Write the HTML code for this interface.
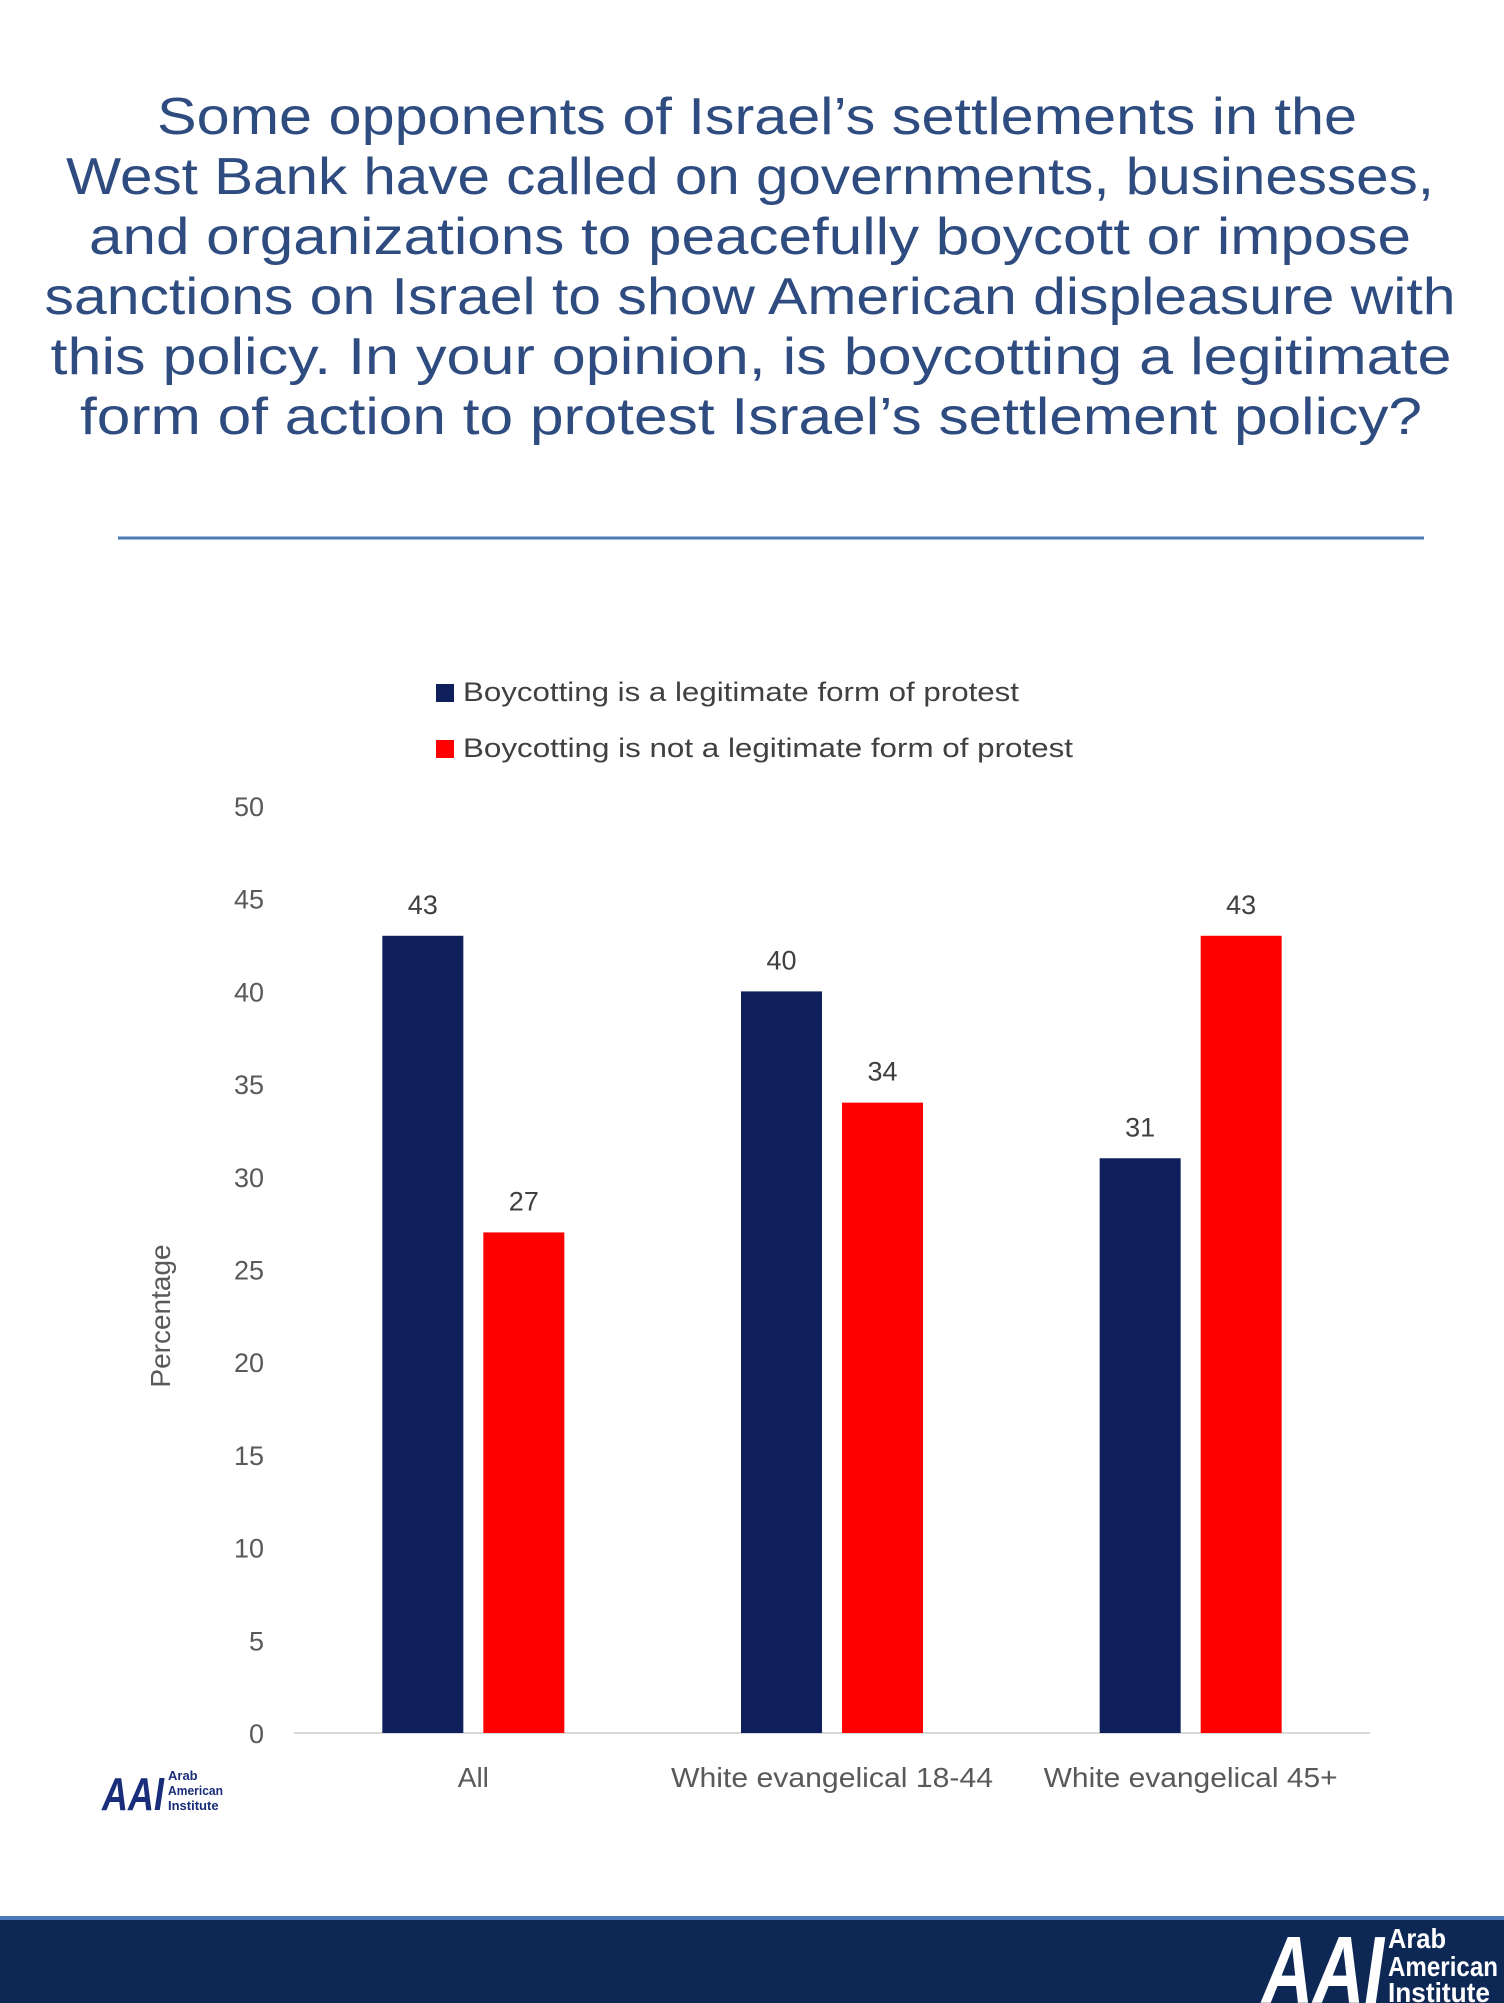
<!DOCTYPE html>
<html><head><meta charset="utf-8"><style>
html,body{margin:0;padding:0;background:#fff;}
svg{display:block;font-family:"Liberation Sans",sans-serif;}
</style></head><body>
<svg id="chart" width="1504" height="2003" viewBox="0 0 1504 2003" xmlns="http://www.w3.org/2000/svg">
<g fill="#2f4c80" font-size="52">
<text x="757" y="134" text-anchor="middle" textLength="1200" lengthAdjust="spacingAndGlyphs">Some opponents of Israel’s settlements in the</text>
<text x="750" y="194" text-anchor="middle" textLength="1368" lengthAdjust="spacingAndGlyphs">West Bank have called on governments, businesses,</text>
<text x="750" y="254" text-anchor="middle" textLength="1322" lengthAdjust="spacingAndGlyphs">and organizations to peacefully boycott or impose</text>
<text x="750" y="314" text-anchor="middle" textLength="1411" lengthAdjust="spacingAndGlyphs">sanctions on Israel to show American displeasure with</text>
<text x="751" y="374" text-anchor="middle" textLength="1401" lengthAdjust="spacingAndGlyphs">this policy. In your opinion, is boycotting a legitimate</text>
<text x="751" y="434" text-anchor="middle" textLength="1342" lengthAdjust="spacingAndGlyphs">form of action to protest Israel’s settlement policy?</text>
</g>
<line x1="118" y1="538" x2="1424" y2="538" stroke="#4a7ab8" stroke-width="3"/>
<g font-size="27" fill="#404040">
<g>
<rect x="436" y="684" width="18" height="18" fill="#0e1f5b"/>
<text x="463" y="701" textLength="556" lengthAdjust="spacingAndGlyphs">Boycotting is a legitimate form of protest</text></g>
<g>
<rect x="436" y="740" width="18" height="18" fill="#ff0000"/>
<text x="463" y="757" textLength="610" lengthAdjust="spacingAndGlyphs">Boycotting is not a legitimate form of protest</text></g>
</g>
<g id="yaxis"></g>
<text transform="translate(170,1316) rotate(-90)" text-anchor="middle" font-size="28" fill="#595959">Percentage</text>
<line x1="294" y1="1733" x2="1370" y2="1733" stroke="#d9d9d9" stroke-width="2"/>
<g id="bars"></g>
<g id="xaxis"></g>
<g>
<text x="102" y="1810" font-size="46" font-weight="bold" font-style="italic" fill="#1a2d7a" textLength="62" lengthAdjust="spacingAndGlyphs">AAI</text>
<text x="168" y="1780" font-size="13" font-weight="bold" fill="#1a2d7a">Arab</text>
<text x="168" y="1795" font-size="13" font-weight="bold" fill="#1a2d7a" textLength="55" lengthAdjust="spacingAndGlyphs">American</text>
<text x="168" y="1810" font-size="13" font-weight="bold" fill="#1a2d7a">Institute</text>
</g>
<g>
<rect x="0" y="1916" width="1504" height="87" fill="#0e2856"/>
<rect x="0" y="1916" width="1504" height="4" fill="#4a78b8"/>
<text x="1262" y="2003" font-size="96" font-weight="bold" font-style="italic" fill="#fff" textLength="122" lengthAdjust="spacingAndGlyphs">AAI</text>
<text x="1388" y="1948" font-size="28" font-weight="bold" fill="#fff" textLength="58" lengthAdjust="spacingAndGlyphs">Arab</text>
<text x="1388" y="1976" font-size="28" font-weight="bold" fill="#fff" textLength="110" lengthAdjust="spacingAndGlyphs">American</text>
<text x="1388" y="2002" font-size="28" font-weight="bold" fill="#fff" textLength="102" lengthAdjust="spacingAndGlyphs">Institute</text>
</g>
</svg>
<script>
const categories = ["All", "White evangelical 18-44", "White evangelical 45+"];
const legitimateValues = [43, 40, 31];
const notLegitimateValues = [27, 34, 43];
const yTicks = [0, 5, 10, 15, 20, 25, 30, 35, 40, 45, 50];
const NS = "http://www.w3.org/2000/svg";
const plotLeft = 294, plotRight = 1370, plotBottom = 1733, plotTop = 806, yMax = 50;
function yScale(v){ return plotBottom - v * (plotBottom - plotTop) / yMax; }
function groupCenter(i){ const w = (plotRight - plotLeft) / categories.length; return plotLeft + w * (i + 0.5); }
function mk(tag, attrs){ const e = document.createElementNS(NS, tag); for (const k in attrs) e.setAttribute(k, attrs[k]); return e; }
const yaxis = document.getElementById('yaxis');
yTicks.forEach(t => {
  const el = mk('text', {x: 264, y: yScale(t) + 10, 'text-anchor': 'end', 'font-size': 27, fill: '#595959'});
  el.textContent = t;
  
  
  yaxis.appendChild(el);
});
const bars = document.getElementById('bars');
const series = [[legitimateValues, '#0e1f5b', -91, 'legitimate'], [notLegitimateValues, '#ff0000', 10, 'not-legitimate']];
categories.forEach((c, i) => {
  const cx = groupCenter(i);
  series.forEach(([vals, color, off, nm]) => {
    const v = vals[i];
    const r = mk('rect', {x: cx + off, y: yScale(v), width: 81, height: plotBottom - yScale(v), fill: color});
    
    
    bars.appendChild(r);
    const l = mk('text', {x: cx + off + 40.5, y: yScale(v) - 22, 'text-anchor': 'middle', 'font-size': 27, fill: '#404040'});
    l.textContent = v;
    
    
    bars.appendChild(l);
  });
  const xl = mk('text', {x: cx, y: 1787, 'text-anchor': 'middle', 'font-size': 28, fill: '#595959'});
  if (c.length > 5) { xl.setAttribute('textLength', c.length * 14); xl.setAttribute('lengthAdjust', 'spacingAndGlyphs'); }
  xl.textContent = c;
  
  
  document.getElementById('xaxis').appendChild(xl);
});
</script>
</body></html>
